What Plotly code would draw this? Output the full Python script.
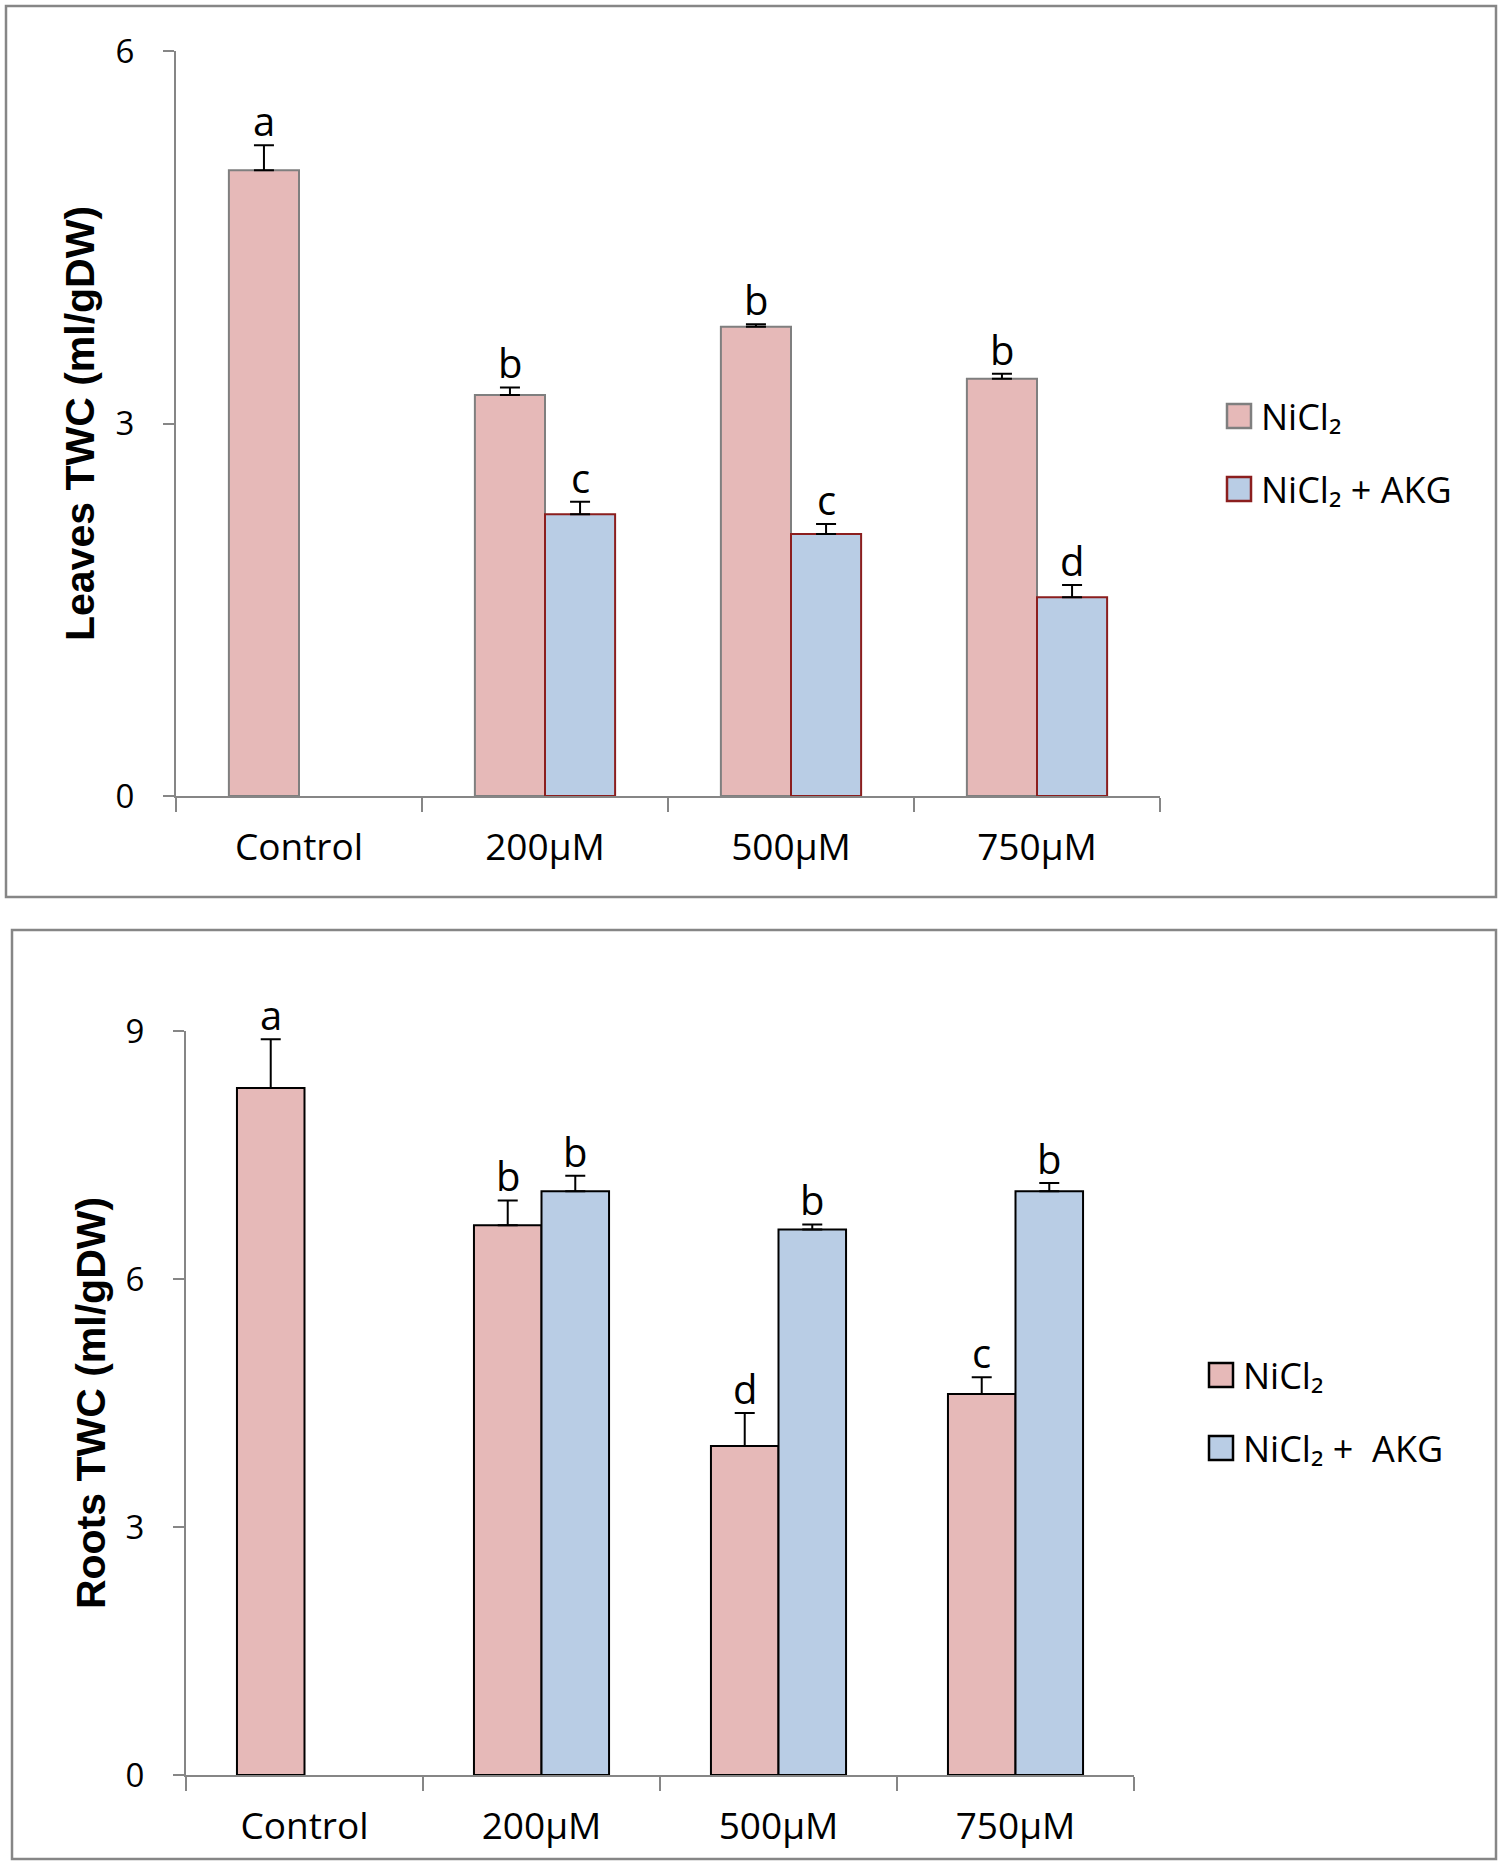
import plotly.graph_objects as go

categories = ["Control", "200μM", "500μM", "750μM"]

leaves_nicl2 = [5.04, 3.23, 3.78, 3.36]
leaves_nicl2_err = [0.20, 0.06, 0.02, 0.04]
leaves_akg = [None, 2.27, 2.11, 1.60]
leaves_akg_err = [0, 0.10, 0.08, 0.10]
leaves_nicl2_letters = ["a", "b", "b", "b"]
leaves_akg_letters = [None, "c", "c", "d"]

roots_nicl2 = [8.31, 6.65, 3.98, 4.61]
roots_nicl2_err = [0.59, 0.30, 0.40, 0.20]
roots_akg = [None, 7.06, 6.60, 7.06]
roots_akg_err = [0, 0.19, 0.06, 0.10]
roots_nicl2_letters = ["a", "b", "d", "c"]
roots_akg_letters = [None, "b", "b", "b"]

legend_top = ["NiCl₂", "NiCl₂ + AKG"]
legend_bottom = ["NiCl₂", "NiCl₂ +\u00a0 AKG"]

W, H = 1500, 1863
PINK = "#E6B9B8"
BLUE = "#B9CDE5"
GRAY = "#868686"
EDGE_TOP_1 = "#7F7F7F"
EDGE_TOP_2 = "#8B1E1E"
FONT = "Open Sans, sans-serif"
BOLD = "Liberation Sans, Arial, sans-serif"

def px(x):
    return x / W

def py(y):
    return 1 - y / H

fig = go.Figure()

BARGAP = 0.43
OFF = (1 - BARGAP) / 4

err_style = dict(type="data", symmetric=False, color="black", thickness=2, width=10)

fig.add_trace(go.Bar(x=categories, y=leaves_nicl2, name=legend_top[0], showlegend=False,
                     marker=dict(color=PINK, line=dict(color=EDGE_TOP_1, width=2)),
                     error_y=dict(array=leaves_nicl2_err, arrayminus=[0]*4, **err_style),
                     xaxis="x", yaxis="y"))
fig.add_trace(go.Bar(x=categories, y=leaves_akg, name=legend_top[1], showlegend=False,
                     marker=dict(color=BLUE, line=dict(color=EDGE_TOP_2, width=2)),
                     error_y=dict(array=leaves_akg_err, arrayminus=[0]*4, **err_style),
                     xaxis="x", yaxis="y"))
fig.add_trace(go.Bar(x=categories, y=roots_nicl2, name=legend_bottom[0], showlegend=False,
                     marker=dict(color=PINK, line=dict(color="black", width=2)),
                     error_y=dict(array=roots_nicl2_err, arrayminus=[0]*4, **err_style),
                     xaxis="x2", yaxis="y2"))
fig.add_trace(go.Bar(x=categories, y=roots_akg, name=legend_bottom[1], showlegend=False,
                     marker=dict(color=BLUE, line=dict(color="black", width=2)),
                     error_y=dict(array=roots_akg_err, arrayminus=[0]*4, **err_style),
                     xaxis="x2", yaxis="y2"))

annotations = []
def add_letters(vals, errs, letters, off, xref, yref):
    for i, (v, e, l) in enumerate(zip(vals, errs, letters)):
        if l is None or v is None:
            continue
        annotations.append(dict(x=i + off, y=v + e, xref=xref, yref=yref, text=l, showarrow=False,
                                yanchor="bottom", yshift=-5, font=dict(family=FONT, size=40, color="black")))

add_letters(leaves_nicl2, leaves_nicl2_err, leaves_nicl2_letters, -OFF, "x", "y")
add_letters(leaves_akg, leaves_akg_err, leaves_akg_letters, OFF, "x", "y")
add_letters(roots_nicl2, roots_nicl2_err, roots_nicl2_letters, -OFF, "x2", "y2")
add_letters(roots_akg, roots_akg_err, roots_akg_letters, OFF, "x2", "y2")

shapes = [
    dict(type="rect", xref="paper", yref="paper", x0=px(6), x1=px(1496), y0=py(6), y1=py(897),
         line=dict(color=GRAY, width=2.5), fillcolor="rgba(0,0,0,0)", layer="below"),
    dict(type="rect", xref="paper", yref="paper", x0=px(12), x1=px(1496), y0=py(930), y1=py(1859),
         line=dict(color=GRAY, width=2.5), fillcolor="rgba(0,0,0,0)", layer="below"),
]

# custom legends (swatch + label)
def add_legend(labels, fills, edges, box_x, box_ys, text_x):
    for lab, fc, ec, by in zip(labels, fills, edges, box_ys):
        shapes.append(dict(type="rect", xref="paper", yref="paper", x0=px(box_x), x1=px(box_x + 24),
                           y0=py(by + 24), y1=py(by), fillcolor=fc, line=dict(color=ec, width=2.5)))
        annotations.append(dict(x=px(text_x), y=py(by + 12), xref="paper", yref="paper", text=lab, showarrow=False,
                                xanchor="left", yanchor="middle", font=dict(family=FONT, size=36, color="black")))

add_legend(legend_top, [PINK, BLUE], [EDGE_TOP_1, EDGE_TOP_2], 1227, [404, 477], 1259)
add_legend(legend_bottom, [PINK, BLUE], ["black", "black"], 1209, [1363, 1436], 1241)

xaxis_common = dict(type="category", showline=True, linecolor=GRAY, linewidth=2, ticks="outside", tickson="boundaries",
                    ticklen=14, tickcolor=GRAY, tickwidth=2, range=[-0.5, 3.5], showgrid=False, zeroline=False,
                    automargin=False, ticklabelstandoff=18,
                    tickfont=dict(family=FONT, size=37, color="black"), fixedrange=True)
yaxis_common = dict(showline=True, linecolor=GRAY, linewidth=2, ticks="outside", ticklen=11, tickcolor=GRAY, tickwidth=2,
                    showgrid=False, zeroline=False, automargin=False, ticklabelstandoff=22,
                    tickfont=dict(family=FONT, size=33, color="black"), fixedrange=True)

fig.update_layout(
    width=W, height=H,
    margin=dict(l=0, r=0, t=0, b=0, pad=0, autoexpand=False),
    paper_bgcolor="white", plot_bgcolor="white",
    barmode="group", bargap=BARGAP, bargroupgap=0,
    showlegend=False,
    xaxis=dict(domain=[px(176), px(1160)], anchor="y", **xaxis_common),
    yaxis=dict(domain=[py(796), py(51)], anchor="x", range=[0, 6], tickvals=[0, 3, 6],
               title=dict(text="<b>Leaves TWC (ml/gDW)</b>", font=dict(family=BOLD, size=41, color="black"), standoff=8),
               **yaxis_common),
    xaxis2=dict(domain=[px(186), px(1134)], anchor="y2", **xaxis_common),
    yaxis2=dict(domain=[py(1775), py(1031)], anchor="x2", range=[0, 9], tickvals=[0, 3, 6, 9],
                title=dict(text="<b>Roots TWC (ml/gDW)</b>", font=dict(family=BOLD, size=41, color="black"), standoff=7),
                **yaxis_common),
    annotations=annotations,
    shapes=shapes,
)

fig.write_html("out.html", config={"displayModeBar": False},
               post_script="document.body.style.margin='0px';")
